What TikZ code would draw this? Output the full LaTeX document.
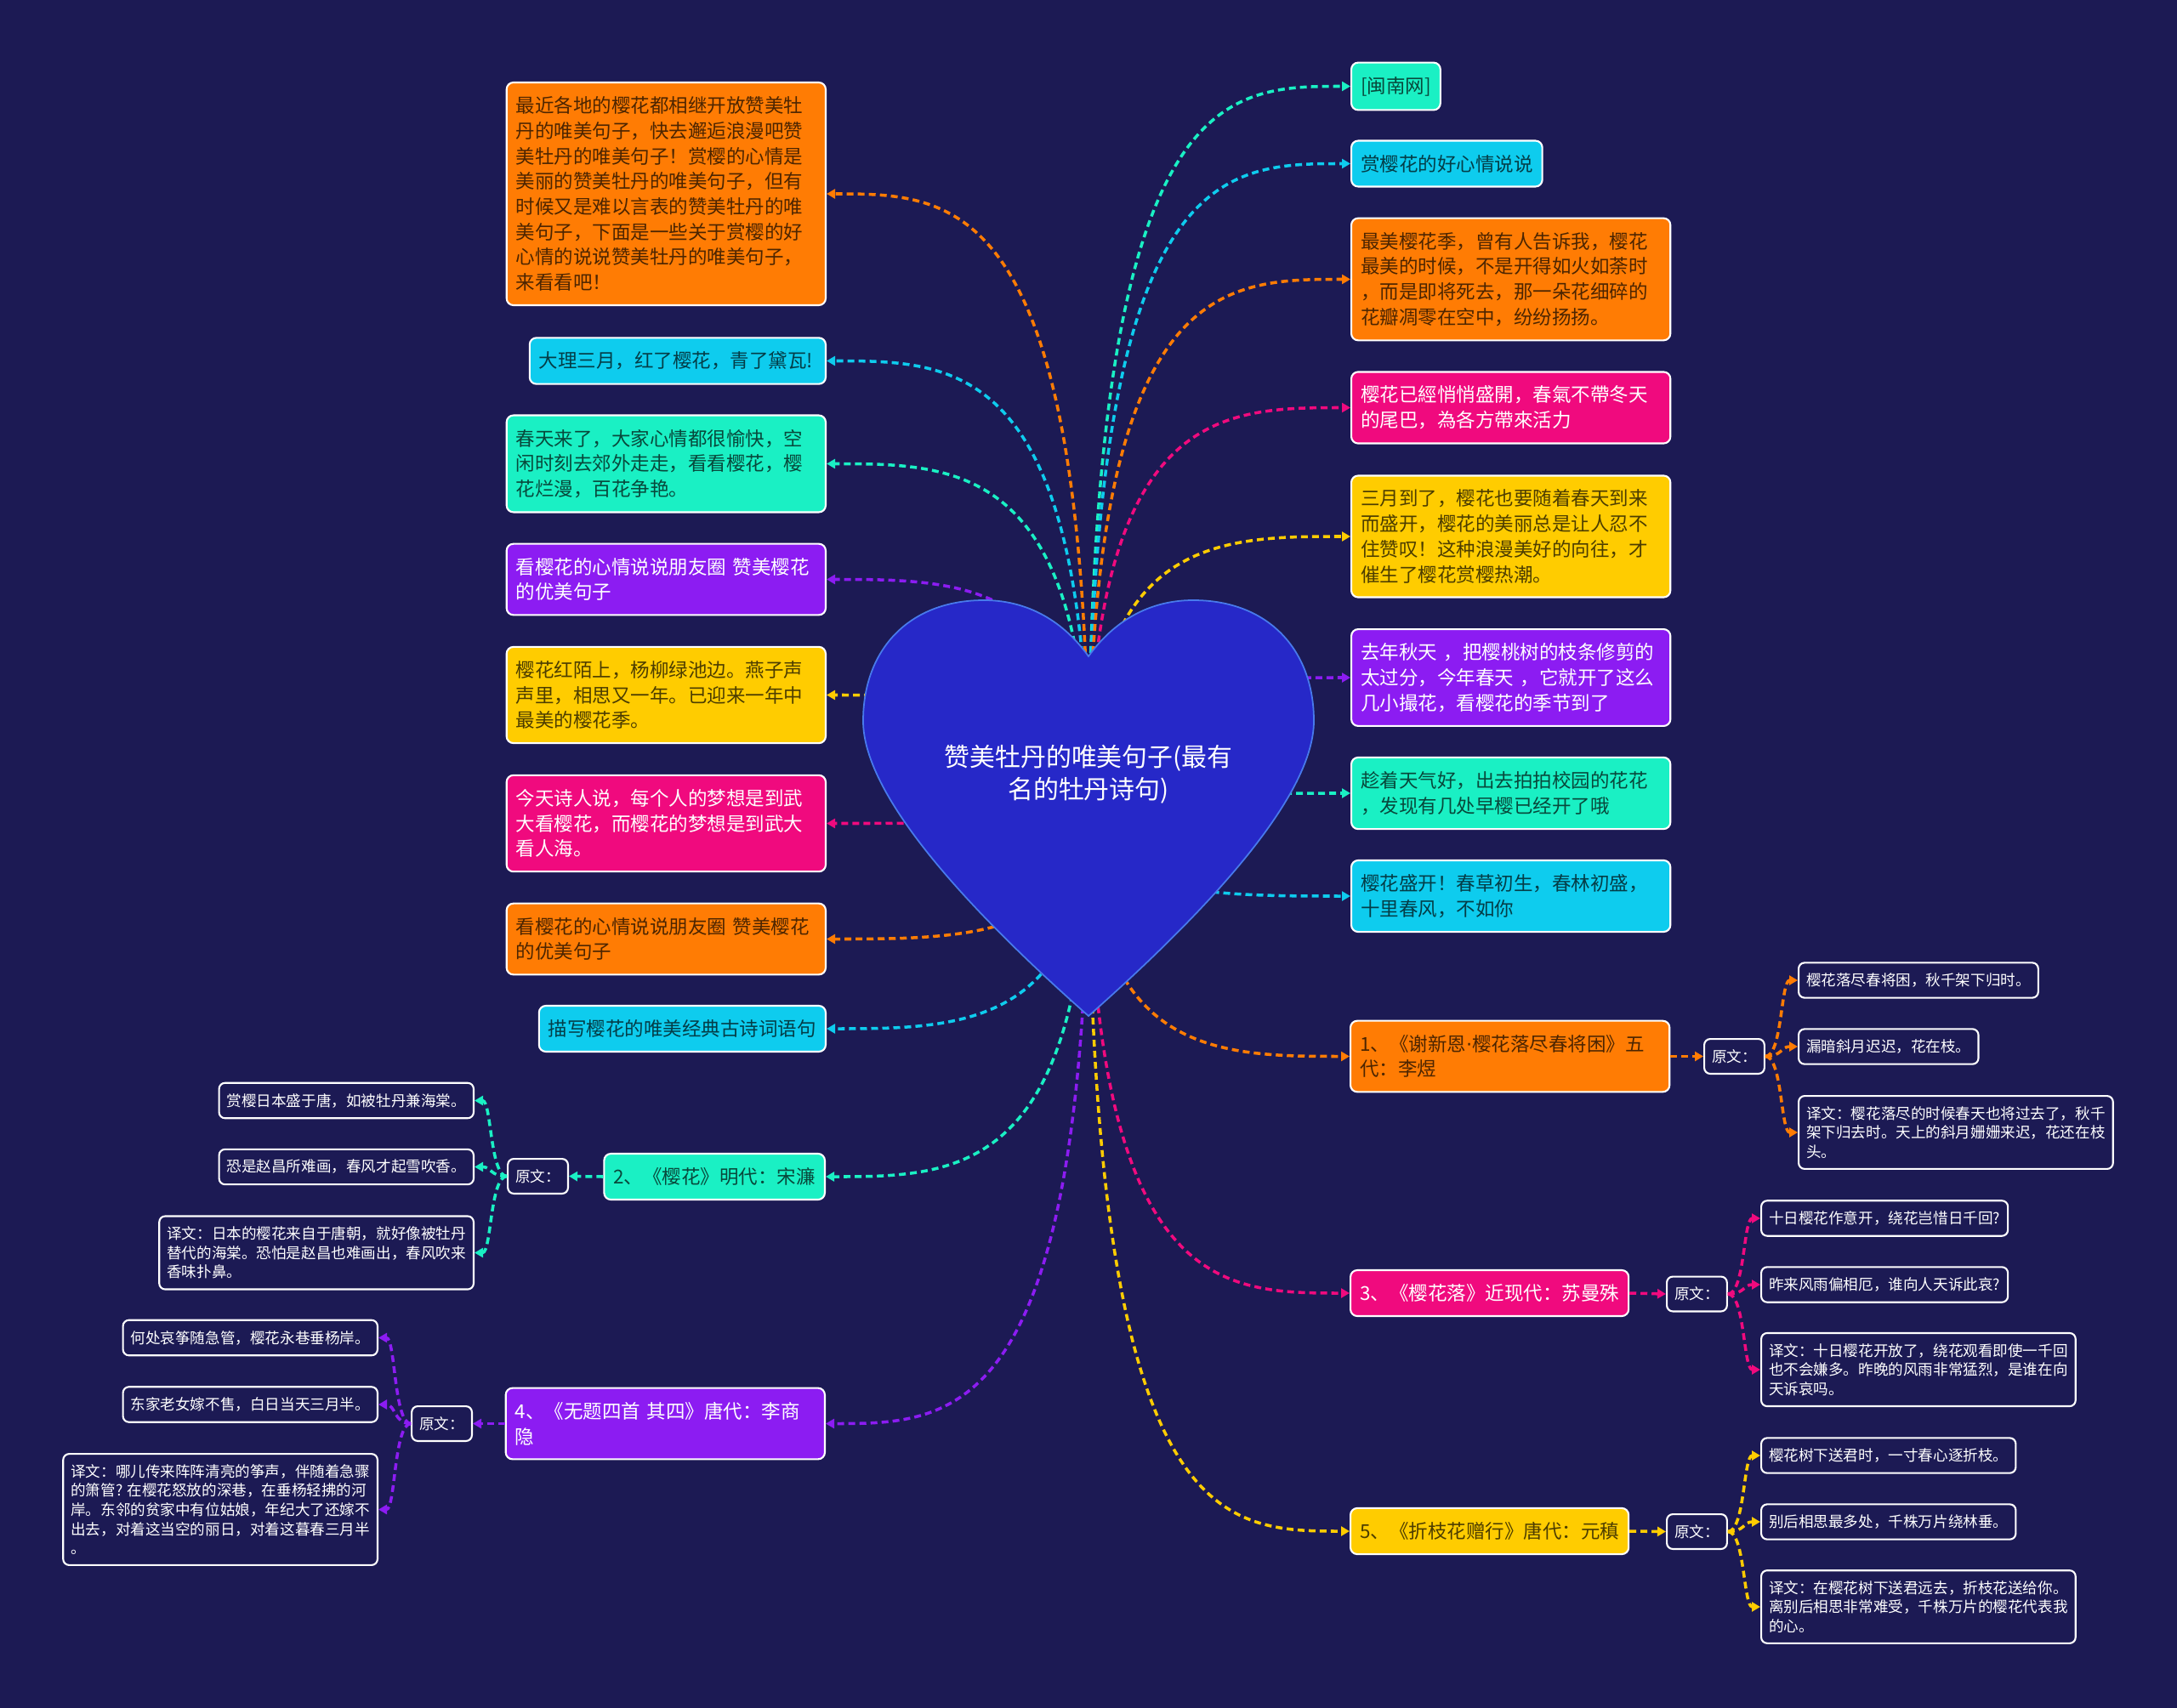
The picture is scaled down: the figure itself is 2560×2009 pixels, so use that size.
\documentclass[tikz,border=0pt]{standalone}
\usepackage{fontspec}
\setmainfont{Noto Sans CJK SC}
\newfontfamily\dotfont{DejaVu Sans}
\usetikzlibrary{arrows.meta,calc}

\definecolor{bg}{RGB}{28,26,84}
\definecolor{cOrange}{RGB}{255,124,4}
\definecolor{cCyan}{RGB}{14,204,238}
\definecolor{cGreen}{RGB}{26,240,196}
\definecolor{cPurple}{RGB}{140,28,242}
\definecolor{cYellow}{RGB}{255,204,0}
\definecolor{cPink}{RGB}{240,10,126}
\definecolor{heartfill}{RGB}{38,40,200}
\definecolor{heartline}{RGB}{72,122,236}

\begin{document}
\begin{tikzpicture}[x=0.01cm, y=-0.01cm,
    topic/.style={rectangle, rounded corners=0.08cm, draw=white, line width=0.6pt,
      inner xsep=0.11cm, inner ysep=0.165cm, align=left,
      font=\fontsize{6.4}{8.45}\selectfont},
    wide/.style={text width=3.53cm},
    tOrange/.style={topic, fill=cOrange, text=cOrange!30!black},
    tCyan/.style={topic, fill=cCyan, text=cCyan!30!black},
    tGreen/.style={topic, fill=cGreen, text=cGreen!30!black},
    tYellow/.style={topic, fill=cYellow, text=cYellow!30!black},
    tPurple/.style={topic, fill=cPurple, text=white},
    tPink/.style={topic, fill=cPink, text=white},
    leaf/.style={rectangle, rounded corners=0.07cm, draw=white, line width=0.6pt,
      fill=bg, text=white, inner xsep=0.09cm, inner ysep=0.123cm, align=left,
      font=\fontsize{5}{6.4}\selectfont},
    link/.style={draw=#1, line width=1pt, dash pattern=on 0.08cm off 0.05cm,
      -{Triangle[length=0.1cm,width=0.11cm]}}]

  % Background
  \path[use as bounding box, fill=bg] (0,0) rectangle (2560,2009);

  % Left topics
  \node[tOrange, wide, anchor=east] (l1) at (972,228) {最近各地的樱花都相继开放赞美牡\\丹的唯美句子，快去邂逅浪漫吧赞\\美牡丹的唯美句子！赏樱的心情是\\美丽的赞美牡丹的唯美句子，但有\\时候又是难以言表的赞美牡丹的唯\\美句子，下面是一些关于赏樱的好\\心情的说说赞美牡丹的唯美句子，\\来看看吧！};
  \node[tCyan, anchor=east] (l2) at (972,424.5) {大理三月，红了樱花，青了黛瓦!\,};
  \node[tGreen, wide, anchor=east] (l3) at (972,545.5) {春天来了，大家心情都很愉快，空\\闲时刻去郊外走走，看看樱花，樱\\花烂漫，百花争艳。};
  \node[tPurple, wide, anchor=east] (l4) at (972,681.5) {看樱花的心情说说朋友圈~赞美樱花\\的优美句子};
  \node[tYellow, wide, anchor=east] (l5) at (972,817.5) {樱花红陌上，杨柳绿池边。燕子声\\声里，相思又一年。已迎来一年中\\最美的樱花季。};
  \node[tPink, wide, anchor=east] (l6) at (972,968.5) {今天诗人说，每个人的梦想是到武\\大看樱花，而樱花的梦想是到武大\\看人海。};
  \node[tOrange, wide, anchor=east] (l7) at (972,1104.5) {看樱花的心情说说朋友圈~赞美樱花\\的优美句子};
  \node[tCyan, anchor=east] (l8) at (972,1210) {描写樱花的唯美经典古诗词语句};
  \node[tGreen, anchor=east] (l9) at (971,1384) {2、《樱花》明代：宋濂};
  \node[tPurple, wide, anchor=east] (l10) at (971,1674.5) {4、《无题四首~其四》唐代：李商\\隐};

  % Right topics
  \node[tGreen, anchor=west] (r1) at (1588,101.5) {[闽南网]};
  \node[tCyan, anchor=west] (r2) at (1588,192.5) {赏樱花的好心情说说};
  \node[tOrange, wide, anchor=west] (r3) at (1588,328.5) {最美樱花季，曾有人告诉我，樱花\\最美的时候，不是开得如火如荼时\\，而是即将死去，那一朵花细碎的\\花瓣凋零在空中，纷纷扬扬。};
  \node[tPink, wide, anchor=west] (r4) at (1588,479.5) {樱花已經悄悄盛開，春氣不帶冬天\\的尾巴，為各方帶來活力};
  \node[tYellow, wide, anchor=west] (r5) at (1588,631) {三月到了，樱花也要随着春天到来\\而盛开，樱花的美丽总是让人忍不\\住赞叹！这种浪漫美好的向往，才\\催生了樱花赏樱热潮。};
  \node[tPurple, wide, anchor=west] (r6) at (1588,797) {去年秋天~，把樱桃树的枝条修剪的\\太过分，今年春天~，它就开了这么\\几小撮花，看樱花的季节到了};
  \node[tGreen, wide, anchor=west] (r7) at (1588,933) {趁着天气好，出去拍拍校园的花花\\，发现有几处早樱已经开了哦};
  \node[tCyan, wide, anchor=west] (r8) at (1588,1054) {樱花盛开！春草初生，春林初盛，\\十里春风，不如你};
  \node[tOrange, wide, anchor=west] (r9) at (1587,1242.5) {1、《谢新恩{\dotfont ·}樱花落尽春将困》五\\代：李煜};
  \node[tPink, anchor=west] (r10) at (1587,1521) {3、《樱花落》近现代：苏曼殊};
  \node[tYellow, anchor=west] (r11) at (1587,1801) {5、《折枝花赠行》唐代：元稹};

  % Poem 1
  \node[leaf, anchor=west] (ya) at (2003,1242.5) {原文：};
  \node[leaf, anchor=west] (a1) at (2114,1153) {樱花落尽春将困，秋千架下归时。};
  \node[leaf, anchor=west] (a2) at (2114,1231) {漏暗斜月迟迟，花在枝。};
  \node[leaf, anchor=west] (a3) at (2114,1332) {译文：樱花落尽的时候春天也将过去了，秋千\\架下归去时。天上的斜月姗姗来迟，花还在枝\\头。};

  % Poem 3
  \node[leaf, anchor=west] (yb) at (1959,1522) {原文：};
  \node[leaf, anchor=west] (b1) at (2070,1433) {十日樱花作意开，绕花岂惜日千回?};
  \node[leaf, anchor=west] (b2) at (2070,1511) {昨来风雨偏相厄，谁向人天诉此哀?};
  \node[leaf, anchor=west] (b3) at (2070,1611) {译文：十日樱花开放了，绕花观看即使一千回\\也不会嫌多。昨晚的风雨非常猛烈，是谁在向\\天诉哀吗。};

  % Poem 5
  \node[leaf, anchor=west] (ye) at (1959,1801.5) {原文：};
  \node[leaf, anchor=west] (e1) at (2070,1712) {樱花树下送君时，一寸春心逐折枝。};
  \node[leaf, anchor=west] (e2) at (2070,1790) {别后相思最多处，千株万片绕林垂。};
  \node[leaf, anchor=west] (e3) at (2070,1890) {译文：在樱花树下送君远去，折枝花送给你。\\离别后相思非常难受，千株万片的樱花代表我\\的心。};

  % Poem 2
  \node[leaf, anchor=east] (yc) at (669,1383.5) {原文：};
  \node[leaf, anchor=east] (c1) at (558,1294.5) {赏樱日本盛于唐，如被牡丹兼海棠。};
  \node[leaf, anchor=east] (c2) at (558,1372.5) {恐是赵昌所难画，春风才起雪吹香。};
  \node[leaf, anchor=east] (c3) at (558,1473.5) {译文：日本的樱花来自于唐朝，就好像被牡丹\\替代的海棠。恐怕是赵昌也难画出，春风吹来\\香味扑鼻。};

  % Poem 4
  \node[leaf, anchor=east] (yd) at (556,1674.5) {原文：};
  \node[leaf, anchor=east] (d1) at (445,1573.5) {何处哀筝随急管，樱花永巷垂杨岸。};
  \node[leaf, anchor=east] (d2) at (445,1652) {东家老女嫁不售，白日当天三月半。};
  \node[leaf, anchor=east] (d3) at (445,1775.5) {译文：哪儿传来阵阵清亮的筝声，伴随着急骤\\的箫管? 在樱花怒放的深巷，在垂杨轻拂的河\\岸。东邻的贫家中有位姑娘，年纪大了还嫁不\\出去，对着这当空的丽日，对着这暮春三月半\\。};

  % Links from the heart
  \coordinate (hub) at (1280,950);
  \foreach \n/\col in {l1/cOrange, l2/cCyan, l3/cGreen, l4/cPurple, l5/cYellow,
      l6/cPink, l7/cOrange, l8/cCyan, l9/cGreen, l10/cPurple}
    \draw[link=\col] (hub) .. controls (hub |- \n.east) and ($(hub |- \n.east)!0.5!(\n.east)$) .. (\n.east);
  \foreach \n/\col in {r1/cGreen, r2/cCyan, r3/cOrange, r4/cPink, r5/cYellow,
      r6/cPurple, r7/cGreen, r8/cCyan, r9/cOrange, r10/cPink, r11/cYellow}
    \draw[link=\col] (hub) .. controls (hub |- \n.west) and ($(hub |- \n.west)!0.5!(\n.west)$) .. (\n.west);

  % Topic to 原文
  \draw[link=cOrange] (r9.east) -- (ya.west);
  \draw[link=cPink] (r10.east) -- (yb.west);
  \draw[link=cYellow] (r11.east) -- (ye.west);
  \draw[link=cGreen] (l9.west) -- (yc.east);
  \draw[link=cPurple] (l10.west) -- (yd.east);

  % 原文 to the lines
  \foreach \l in {a1,a2,a3}
    \draw[link=cOrange] (ya.east) .. controls +(20,0) and +(-20,0) .. (\l.west);
  \foreach \l in {b1,b2,b3}
    \draw[link=cPink] (yb.east) .. controls +(20,0) and +(-20,0) .. (\l.west);
  \foreach \l in {e1,e2,e3}
    \draw[link=cYellow] (ye.east) .. controls +(20,0) and +(-20,0) .. (\l.west);
  \foreach \l in {c1,c2,c3}
    \draw[link=cGreen] (yc.west) .. controls +(-20,0) and +(20,0) .. (\l.east);
  \foreach \l in {d1,d2,d3}
    \draw[link=cPurple] (yd.west) .. controls +(-20,0) and +(20,0) .. (\l.east);

  % Heart
  \filldraw[fill=heartfill, draw=heartline, line width=0.5pt]
    (1280,772) .. controls (1255,737) and (1215,706) .. (1157,706)
    .. controls (1068,706) and (1015,765) .. (1015,848)
    .. controls (1015,940) and (1150,1080) .. (1280,1195)
    .. controls (1410,1080) and (1545,940) .. (1545,848)
    .. controls (1545,765) and (1492,706) .. (1403,706)
    .. controls (1345,706) and (1305,737) .. cycle;
  \node[font=\fontsize{8.5}{10.8}\selectfont, text=white, align=center] (title) at (1280,911) {赞美牡丹的唯美句子(最有\\名的牡丹诗句)};
\end{tikzpicture}
\end{document}
